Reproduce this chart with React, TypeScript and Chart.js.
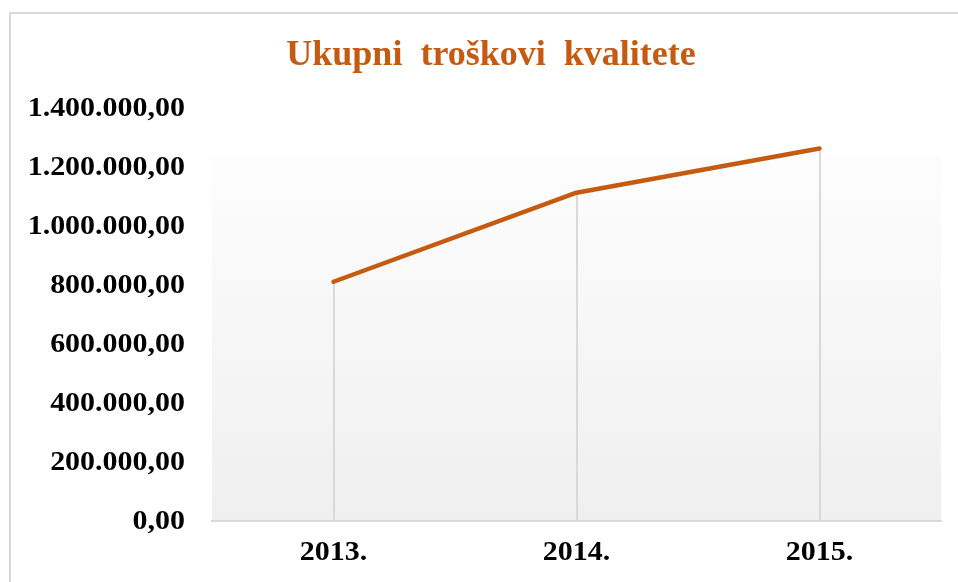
import React, { useEffect, useRef } from "react";
import { Chart, registerables } from "chart.js";

Chart.register(...registerables);

const TITLE = "Ukupni  troškovi  kvalitete";
const CATEGORIES = ["2013.", "2014.", "2015."];
const VALUES = [811000, 1113000, 1263000];
const Y_MIN = 0;
const Y_MAX = 1400000;
const Y_STEP = 200000;

const FONT = "'Liberation Serif', 'Times New Roman', serif";
const ORANGE = "#C55A11";
const GRAY = "#d9d9d9";
const STRETCH = 1.11;

function fmt(v: number): string {
  const int = Math.round(v).toString().replace(/\B(?=(\d{3})+(?!\d))/g, ".");
  return int + ",00";
}

function stretchedText(ctx: any, text: string, x: number, y: number, align: "right" | "center") {
  ctx.save();
  ctx.translate(x, y);
  ctx.scale(STRETCH, 1);
  ctx.textAlign = align;
  ctx.textBaseline = "middle";
  ctx.fillText(text, 0, 0);
  ctx.restore();
}

const decorPlugin = {
  id: "decor",
  beforeDraw(chart: any) {
    const { ctx, chartArea, width } = chart;
    ctx.save();
    ctx.fillStyle = "#ffffff";
    ctx.fillRect(0, 0, chart.width, chart.height);
    ctx.strokeStyle = GRAY;
    ctx.lineWidth = 2;
    ctx.beginPath();
    ctx.moveTo(10, chart.height + 5);
    ctx.lineTo(10, 13);
    ctx.lineTo(width + 5, 13);
    ctx.stroke();
    const g = ctx.createLinearGradient(0, chartArea.top, 0, chartArea.bottom);
    g.addColorStop(0, "#ffffff");
    g.addColorStop(0.1, "#ffffff");
    g.addColorStop(0.12, "#fdfdfd");
    g.addColorStop(1, "#efefef");
    ctx.fillStyle = g;
    ctx.fillRect(chartArea.left, chartArea.top + 47, chartArea.right - chartArea.left, chartArea.bottom - chartArea.top - 47);
    ctx.fillStyle = ORANGE;
    ctx.font = `bold 36px ${FONT}`;
    ctx.textAlign = "center";
    ctx.textBaseline = "middle";
    ctx.fillText(TITLE, 491, 56);
    ctx.restore();
  },
  beforeDatasetsDraw(chart: any) {
    const { ctx, chartArea } = chart;
    const meta = chart.getDatasetMeta(0);
    ctx.save();
    ctx.strokeStyle = GRAY;
    ctx.lineWidth = 2;
    meta.data.forEach((pt: any) => {
      ctx.beginPath();
      ctx.moveTo(Math.round(pt.x), pt.y);
      ctx.lineTo(Math.round(pt.x), chartArea.bottom);
      ctx.stroke();
    });
    ctx.restore();
  },
  afterDraw(chart: any) {
    const { ctx, chartArea } = chart;
    const ys = chart.scales.y;
    const xs = chart.scales.x;
    ctx.save();
    ctx.fillStyle = "#000";
    ctx.font = `bold 27px ${FONT}`;
    ys.ticks.forEach((t: any) => {
      stretchedText(ctx, fmt(t.value), chartArea.left - 27, ys.getPixelForValue(t.value) + 1, "right");
    });
    xs.ticks.forEach((t: any, i: number) => {
      stretchedText(ctx, CATEGORIES[t.value], xs.getPixelForTick(i), chartArea.bottom + 32, "center");
    });
    ctx.restore();
  },
};

export default function App() {
  const ref = useRef<HTMLCanvasElement | null>(null);
  useEffect(() => {
    document.body.style.margin = "0";
    const chart = new Chart(ref.current!, {
      type: "line",
      data: {
        labels: CATEGORIES,
        datasets: [
          {
            data: VALUES,
            borderColor: ORANGE,
            borderWidth: 4.5,
            pointRadius: 0,
            borderCapStyle: "round",
            borderJoinStyle: "round",
            tension: 0,
          },
        ],
      },
      options: {
        animation: false,
        responsive: false,
        layout: { padding: { top: 108, right: 17, left: 0, bottom: 0 } },
        plugins: { legend: { display: false }, tooltip: { enabled: false }, title: { display: false } },
        scales: {
          x: {
            offset: true,
            grid: { display: false, drawTicks: false },
            border: { display: true, color: GRAY, width: 2 },
            ticks: { display: false },
            afterFit: (s: any) => { s.height = 61; },
          },
          y: {
            min: Y_MIN,
            max: Y_MAX,
            grid: { display: false, drawTicks: false },
            border: { display: false },
            ticks: { display: false, stepSize: Y_STEP },
            afterFit: (s: any) => { s.width = 212; },
          },
        },
      },
      plugins: [decorPlugin],
    });
    return () => chart.destroy();
  }, []);
  return (
    <div style={{ position: "absolute", left: 0, top: 0, width: 958, height: 582 }}>
      <canvas ref={ref} width={958} height={582} style={{ display: "block" }} />
    </div>
  );
}
